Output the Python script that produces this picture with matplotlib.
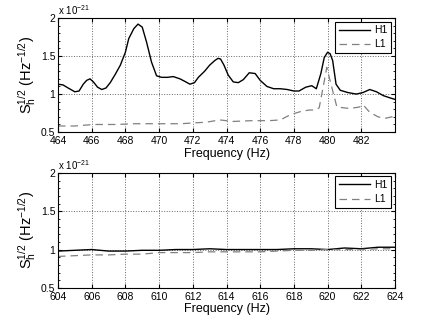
import numpy as np
import matplotlib
matplotlib.use('Agg')
import matplotlib.pyplot as plt
from matplotlib.ticker import MultipleLocator

plt.rcParams['font.family'] = ['Liberation Sans', 'DejaVu Sans']
plt.rcParams['mathtext.fontset'] = 'custom'
plt.rcParams['mathtext.rm'] = 'Liberation Sans'
plt.rcParams['mathtext.it'] = 'Liberation Sans'

# top panel: 464-484 Hz, amplitude in units of 1e-21
f_top_h1 = [464.0, 464.3, 464.6, 465.0, 465.25, 465.5, 465.7, 465.9, 466.1, 466.35,
            466.6, 466.85, 467.1, 467.4, 467.7, 468.0, 468.2, 468.5, 468.75, 469.0,
            469.26, 469.55, 469.85, 470.15, 470.5, 470.84, 471.24, 471.5, 471.83, 472.1,
            472.33, 472.7, 473.0, 473.3, 473.5, 473.65, 473.85, 474.1, 474.4, 474.7,
            475.0, 475.35, 475.7, 476.0, 476.4, 476.8, 477.2, 477.6, 478.0, 478.3,
            478.7, 479.06, 479.33, 479.6, 479.8, 480.0, 480.15, 480.3, 480.5, 480.75,
            481.2, 481.7, 482.1, 482.5, 482.9, 483.3, 483.7, 484.0]
h1_top = [1.13, 1.12, 1.08, 1.03, 1.04, 1.13, 1.18, 1.20, 1.16, 1.09,
          1.06, 1.08, 1.15, 1.26, 1.38, 1.55, 1.73, 1.86, 1.92, 1.88,
          1.68, 1.42, 1.24, 1.22, 1.22, 1.23, 1.20, 1.17, 1.13, 1.15,
          1.22, 1.30, 1.38, 1.44, 1.47, 1.46, 1.38, 1.25, 1.16, 1.15,
          1.19, 1.28, 1.27, 1.18, 1.10, 1.07, 1.07, 1.06, 1.04, 1.04,
          1.09, 1.11, 1.07, 1.27, 1.48, 1.55, 1.53, 1.44, 1.13, 1.05,
          1.02, 1.00, 1.02, 1.06, 1.03, 0.98, 0.95, 0.93]

f_top_l1 = [464.0, 465.0, 466.1, 467.5, 468.5, 469.5, 470.4, 471.3, 472.0, 472.8,
            473.6, 474.4, 475.5, 476.5, 477.2, 477.8, 478.4, 478.9, 479.3, 479.5,
            479.7, 479.95, 480.2, 480.55, 481.3, 481.9, 482.1, 482.5, 483.0, 483.4,
            484.0]
l1_top = [0.58, 0.58, 0.60, 0.60, 0.61, 0.61, 0.61, 0.61, 0.62, 0.63,
          0.66, 0.64, 0.65, 0.65, 0.66, 0.73, 0.77, 0.79, 0.79, 0.82,
          1.05, 1.35, 1.13, 0.83, 0.81, 0.83, 0.86, 0.76, 0.70, 0.68,
          0.71]

# bottom panel: 604-624 Hz
f_bot = [604, 605, 606, 607, 608, 609, 610, 611, 612, 613, 614, 615, 616, 617,
         618, 619, 620, 621, 622, 623, 624]
h1_bot = [0.98, 0.99, 1.00, 0.98, 0.98, 0.99, 0.99, 1.00, 1.00, 1.01, 1.00, 1.00, 1.00, 1.00,
          1.01, 1.01, 1.00, 1.02, 1.01, 1.03, 1.03]
l1_bot = [0.91, 0.92, 0.93, 0.93, 0.94, 0.94, 0.96, 0.96, 0.96, 0.97, 0.97, 0.97, 0.97, 0.98,
          0.99, 0.99, 1.00, 1.00, 1.00, 1.01, 1.01]

fig = plt.figure(figsize=(4.36, 3.16), dpi=100)
ax1 = fig.add_axes([0.133, 0.582, 0.773, 0.361])
ax2 = fig.add_axes([0.133, 0.089, 0.773, 0.364])

panels = [(ax1, f_top_h1, h1_top, f_top_l1, l1_top, 464),
          (ax2, f_bot, h1_bot, f_bot, l1_bot, 604)]

for ax, fh, h, fl, l, f0 in panels:
    ax.plot(fh, h, color='black', lw=1.0, label='H1')
    ax.plot(fl, l, color='0.5', lw=0.9, ls=(0, (6, 4)), label='L1')
    ax.set_xlim(f0, f0 + 20)
    ax.set_ylim(0.5, 2)
    ax.yaxis.set_minor_locator(MultipleLocator(0.1))
    ax.set_yticks([0.5, 1, 1.5, 2])
    ax.set_yticklabels(['0.5', '1', '1.5', '2'])
    ax.tick_params(direction='in', top=True, right=True, labelsize=7.5, length=3)
    ax.tick_params(axis='x', pad=3)
    ax.tick_params(axis='y', pad=2)
    ax.tick_params(which='minor', direction='in', right=True, length=1.5)
    ax.grid(True, ls=':', color='0.4', lw=0.7)
    ax.set_xlabel('Frequency (Hz)', fontsize=9, labelpad=1)
    ax.set_ylabel(r'S$_\mathregular{h}^\mathregular{1/2}$ (Hz$^\mathregular{-1/2}$)', fontsize=10.5, labelpad=2)
    ax.text(0.0, 1.01, r'x 10$^{-21}$', transform=ax.transAxes, fontsize=7, ha='left', va='bottom')
    leg = ax.legend(loc='upper right', fontsize=7.5, fancybox=False, framealpha=1,
                    edgecolor='black', borderpad=0.35, handlelength=3.0, labelspacing=0.4,
                    handletextpad=0.4, borderaxespad=0.35)
    leg.get_frame().set_linewidth(0.8)

ax1.set_xticks(range(464, 483, 2))
ax2.set_xticks(range(604, 625, 2))

fig.savefig('out.png', dpi=100)
